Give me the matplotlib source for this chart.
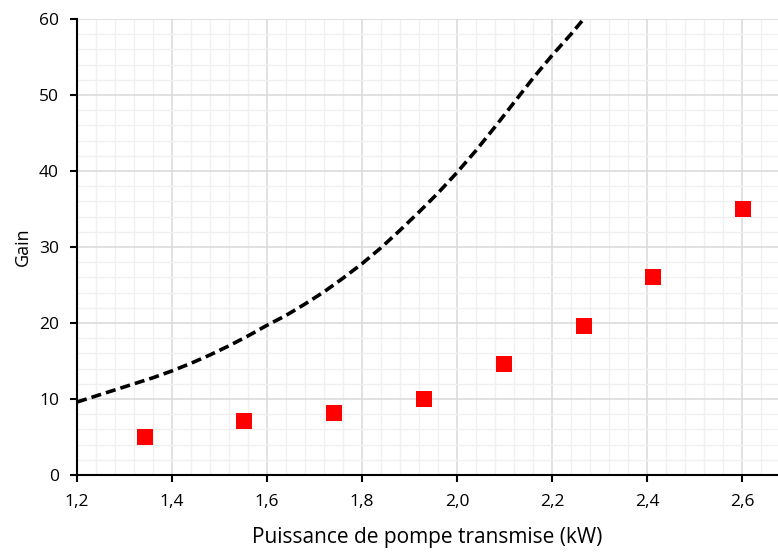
import matplotlib.pyplot as plt
from matplotlib.ticker import MultipleLocator, FuncFormatter

plt.rcParams['font.family'] = ['Open Sans', 'DejaVu Sans']

# mesures (carrés rouges)
puissance = [1.344, 1.552, 1.742, 1.931, 2.100, 2.268, 2.413, 2.603]
gain = [5.0, 7.1, 8.1, 10.0, 14.6, 19.6, 26.0, 35.0]

# courbe théorique (pointillés)
p_theo = [1.20, 1.24, 1.28, 1.32, 1.36, 1.40, 1.44, 1.48, 1.52, 1.56, 1.60,
          1.64, 1.68, 1.72, 1.76, 1.80, 1.84, 1.88, 1.92, 1.96, 2.00,
          2.04, 2.08, 2.12, 2.16, 2.20, 2.24, 2.28]
g_theo = [9.6, 10.4, 11.2, 12.0, 12.8, 13.7, 14.7, 15.8, 17.0, 18.3, 19.7,
          21.0, 22.5, 24.1, 25.9, 27.8, 29.9, 32.2, 34.6, 37.1, 39.8,
          42.7, 45.8, 49.0, 52.2, 55.2, 58.0, 61.0]

fig = plt.figure(figsize=(7.78, 5.52), dpi=100)
ax = fig.add_axes([0.099, 0.1395, 0.901, 0.826])

ax.plot(p_theo, g_theo, color='black', linestyle=(0, (2.8, 1.4)), linewidth=2.6, zorder=3)
ax.plot(puissance, gain, linestyle='none', marker='s', markersize=11,
        color='#ff0000', markeredgewidth=0, zorder=4)

ax.set_xlim(1.2, 2.676)
ax.set_ylim(0, 60)
ax.xaxis.set_major_locator(MultipleLocator(0.2))
ax.xaxis.set_minor_locator(MultipleLocator(0.04))
ax.yaxis.set_major_locator(MultipleLocator(10))
ax.yaxis.set_minor_locator(MultipleLocator(2))
ax.xaxis.set_major_formatter(FuncFormatter(lambda v, p: f'{v:.1f}'.replace('.', ',')))

ax.grid(which='major', color='#d9d9d9', linewidth=1.1, zorder=0)
ax.grid(which='minor', color='#f0f0f0', linewidth=1.0, zorder=0)
ax.set_axisbelow(True)

for s in ['top', 'right']:
    ax.spines[s].set_visible(False)
for s in ['left', 'bottom']:
    ax.spines[s].set_color('black')
    ax.spines[s].set_linewidth(1.5)

ax.tick_params(which='major', direction='out', length=5, width=1.5, labelsize=12.5,
               colors='black')
ax.tick_params(which='minor', length=0)
ax.tick_params(axis='x', pad=9)
ax.tick_params(axis='y', pad=8)

ax.set_xlabel('Puissance de pompe transmise (kW)', fontsize=15, labelpad=12)
ax.set_ylabel('Gain', fontsize=13, labelpad=5)

fig.savefig('out.png', dpi=100)
